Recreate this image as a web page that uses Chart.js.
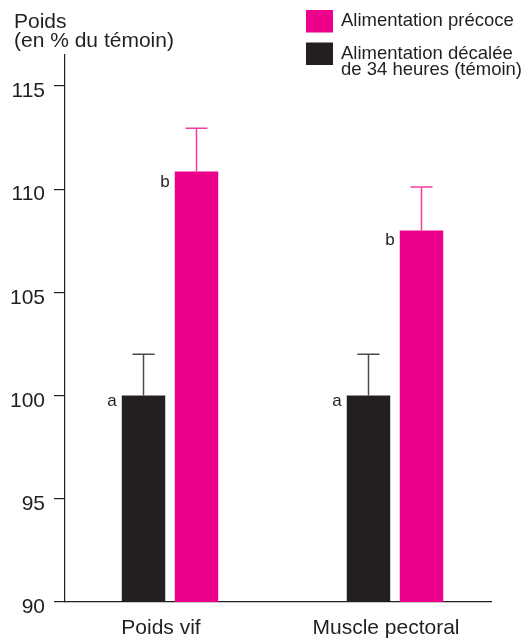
<!DOCTYPE html>
<html><head><meta charset="utf-8">
<script src="https://cdn.jsdelivr.net/npm/chart.js@4"></script>
<style>html,body{margin:0;padding:0;background:#fff}#wrap{width:524px;height:638px}</style>
</head><body><div id="wrap"><canvas id="c" width="524" height="638"></canvas></div>
<script>
// ---- data ----
const categories = ['Poids vif', 'Muscle pectoral'];
const temoinName = ['Alimentation décalée', 'de 34 heures (témoin)'];
const precoceName = ['Alimentation précoce'];
const temoinValues = [100, 100];
const temoinErrors = [2, 2];
const precoceValues = [110.85, 108.0];
const precoceErrors = [2.1, 2.1];
const temoinLetters = ['a', 'a'];
const precoceLetters = ['b', 'b'];
const yTicks = [90, 95, 100, 105, 110, 115];
const yTitle = ['Poids', '(en % du témoin)'];

const FONT = '"Liberation Sans", Arial, sans-serif';
const INK = '#231f20';
const PINK = '#ec008c';

const toPoints = vals => vals.map((v, i) => ({ x: i, y: v }));

const overlay = {
  id: 'overlay',
  afterDatasetsDraw(chart) {
    const ctx = chart.ctx, ys = chart.scales.y;
    chart.data.datasets.forEach((ds, di) => {
      const meta = chart.getDatasetMeta(di);
      meta.data.forEach((bar, i) => {
        const top = ys.getPixelForValue(ds.data[i].y + ds.errors[i]);
        ctx.save();
        ctx.strokeStyle = ds.errorColor;
        ctx.lineWidth = 1.5;
        ctx.beginPath();
        ctx.moveTo(bar.x, bar.y);
        ctx.lineTo(bar.x, top);
        ctx.moveTo(bar.x - 11, top);
        ctx.lineTo(bar.x + 11, top);
        ctx.stroke();
        ctx.fillStyle = INK;
        ctx.font = '17px ' + FONT;
        ctx.textAlign = 'right';
        ctx.textBaseline = 'alphabetic';
        ctx.fillText(ds.letters[i], bar.x - bar.width / 2 - 5, bar.y + ds.letterDrop);
        ctx.restore();
      });
    });
  },
  afterDraw(chart) {
    const ctx = chart.ctx;
    ctx.save();
    ctx.fillStyle = INK;
    ctx.textAlign = 'left';
    ctx.textBaseline = 'alphabetic';
    ctx.font = '21px ' + FONT;
    yTitle.forEach((t, i) => ctx.fillText(t, 14, 28 + i * 19));
    // legend
    const items = [
      { color: PINK, lines: precoceName, y: 10 },
      { color: INK, lines: temoinName, y: 42.5 }
    ];
    ctx.font = '18.5px ' + FONT;
    items.forEach(it => {
      ctx.fillStyle = it.color;
      ctx.fillRect(306, it.y, 27, 22.5);
      ctx.fillStyle = INK;
      it.lines.forEach((l, j) => ctx.fillText(l, 341, it.y + 16 + j * 16.5));
    });
    ctx.restore();
  }
};

new Chart(document.getElementById('c'), {
  type: 'bar',
  data: {
    datasets: [
      { label: temoinName.join(' '), data: toPoints(temoinValues), backgroundColor: INK,
        errors: temoinErrors, errorColor: '#4d4a4b', letters: temoinLetters, letterDrop: 10 },
      { label: precoceName.join(' '), data: toPoints(precoceValues), backgroundColor: PINK,
        errors: precoceErrors, errorColor: '#ee3fa0', letters: precoceLetters, letterDrop: 15 }
    ]
  },
  options: {
    responsive: false,
    animation: false,
    categoryPercentage: 0.4711,
    barPercentage: 0.82,
    layout: { padding: { top: 55, right: 33, left: 0, bottom: 0 } },
    plugins: { legend: { display: false }, tooltip: { enabled: false } },
    scales: {
      x: {
        type: 'linear',
        offset: false,
        min: -0.4667,
        max: 1.4267,
        afterBuildTicks: s => { s.ticks = categories.map((c, i) => ({ value: i })); },
        afterFit: s => { s.height = 36; },
        grid: { display: false, drawTicks: false, offset: false },
        border: { display: true, color: INK, width: 1.2 },
        ticks: {
          callback: v => categories[v],
          color: INK, font: { size: 21, family: FONT },
          padding: 14, labelOffset: -9, maxRotation: 0, autoSkip: false
        }
      },
      y: {
        min: 90,
        max: 116.5,
        afterBuildTicks: s => { s.ticks = yTicks.map(v => ({ value: v })); },
        afterFit: s => { s.width = 65; },
        grid: { drawOnChartArea: false, drawTicks: true, tickLength: 11, color: INK, lineWidth: 1.2 },
        border: { display: true, color: INK, width: 1.2 },
        ticks: {
          callback: v => String(v),
          color: INK, font: { size: 21, family: FONT },
          padding: 9, labelOffset: 5.5
        }
      }
    }
  },
  plugins: [overlay]
});
</script>
</body></html>
